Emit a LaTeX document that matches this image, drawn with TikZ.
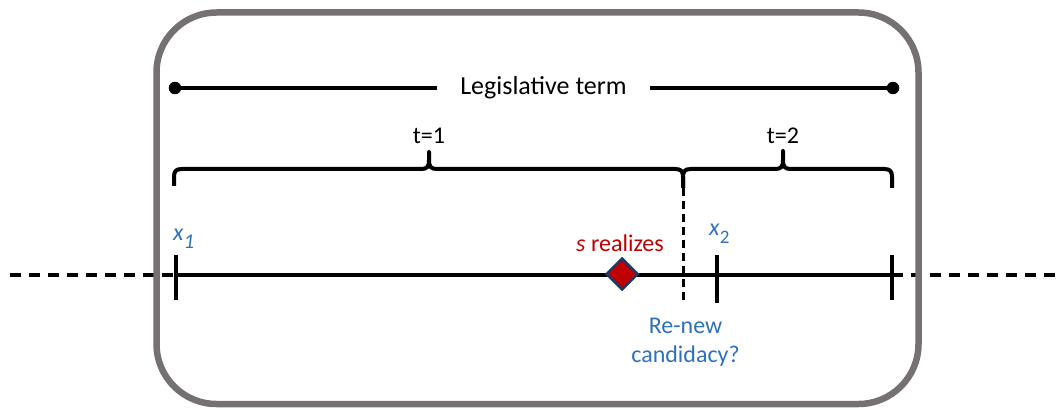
\documentclass[tikz,border=0pt]{standalone}
\usepackage{fontspec}
\setmainfont{Carlito}
\usetikzlibrary{shapes.geometric}

\definecolor{framegray}{RGB}{118,113,113}
\definecolor{labelblue}{RGB}{46,112,190}
\definecolor{eventred}{RGB}{192,0,0}
\definecolor{edgenavy}{RGB}{31,56,100}

% lowered index for the position labels
\newcommand{\posindex}[2]{\raisebox{-8.5pt}{\fontsize{#1}{#1}\selectfont #2}}

\begin{document}
\begin{tikzpicture}[x=1pt,y=-1pt,
  thickline/.style={line width=4pt, black},
  tickmark/.style={line width=4pt, black},
  bracepath/.style={line width=4pt, black, line join=round},
  outerdash/.style={line width=4pt, black, dash pattern=on 11pt off 8pt},
  splitdash/.style={line width=3pt, black, dash pattern=on 8pt off 5pt},
  endpoint/.style={circle, fill=black, inner sep=0pt, minimum size=12.5pt},
  label/.style={font=\fontsize{24}{29}\selectfont, inner sep=0pt, anchor=base},
  bluelabel/.style={label, text=labelblue},
  event/.style={diamond, fill=eventred, draw=edgenavy, line width=2.5pt,
                inner sep=0pt, minimum width=32pt, minimum height=32pt},
  frame/.style={line width=6.5pt, draw=framegray, rounded corners=60pt},
]
\useasboundingbox (0,0) rectangle (1058,409);

% --- legislative term bar ---------------------------------------------
\node[endpoint] (termL) at (175,88) {};
\node[endpoint] (termR) at (893,88) {};
\node[label, font=\fontsize{26}{30}\selectfont, inner xsep=23pt] (term) at (543.5,95) {Legislative term};
\draw[thickline] (termL.center) -- (term.west |- termL.center);
\draw[thickline] (term.east |- termR.center) -- (termR.center);

% --- period braces -----------------------------------------------------
\draw[bracepath] (174,186) -- (174,177) .. controls (174,171) and (176,169) .. (182,169)
  -- (421,169) .. controls (427,169) and (429,167) .. (429,160) -- (429,152)
  -- (429,160) .. controls (429,167) and (431,169) .. (437,169)
  -- (675,169) .. controls (681,169) and (683,171) .. (683,177) -- (683,188);
\draw[bracepath] (683,188) -- (683,177) .. controls (683,171) and (685,169) .. (691,169)
  -- (775,169) .. controls (781,169) and (783,167) .. (783,160) -- (783,151)
  -- (783,160) .. controls (783,167) and (785,169) .. (791,169)
  -- (884,169) .. controls (890,169) and (892,171) .. (892,177) -- (892,188);
\node[label] (t1) at (429,144) {t=1};
\node[label] (t2) at (783,144) {t=2};

% --- time axis ---------------------------------------------------------
\coordinate (farL) at (10,275);
\coordinate (farR) at (1058,275);
\coordinate (axL) at (176,275);
\coordinate (axR) at (892,275);
\draw[outerdash] (farL) -- (axL);
\draw[outerdash] (axR) -- (farR);
\draw[thickline] (axL) -- (axR);

\coordinate (x1top) at (176,255);
\coordinate (x1bot) at (176,300);
\coordinate (x2top) at (717,255);
\coordinate (x2bot) at (717,303);
\coordinate (endtop) at (892,255);
\coordinate (endbot) at (892,300);
\draw[tickmark] (x1top) -- (x1bot);
\draw[tickmark] (x2top) -- (x2bot);
\draw[tickmark] (endtop) -- (endbot);

% election point between the two periods
\coordinate (splittop) at (683,188);
\coordinate (splitbot) at (683,303);
\draw[splitdash] (splittop) -- (splitbot);

\node[event] (s) at (622,274) {};

% --- labels ------------------------------------------------------------
\node[bluelabel, anchor=base west] (x1) at (173,240) {\textit{x}\posindex{21}{\textit{1}}};
\node[bluelabel, anchor=base west] (x2) at (709,235) {\textit{x}\posindex{19}{2}};
\node[label, text=eventred] (sreal) at (620,251) {\textit{s} realizes};
\node[bluelabel, anchor=north, align=center] (renew) at (685.5,317.5) {Re-new\\candidacy?};

% --- frame -------------------------------------------------------------
\draw[frame] (156.5,12.5) rectangle (918.5,404);
\end{tikzpicture}
\end{document}
